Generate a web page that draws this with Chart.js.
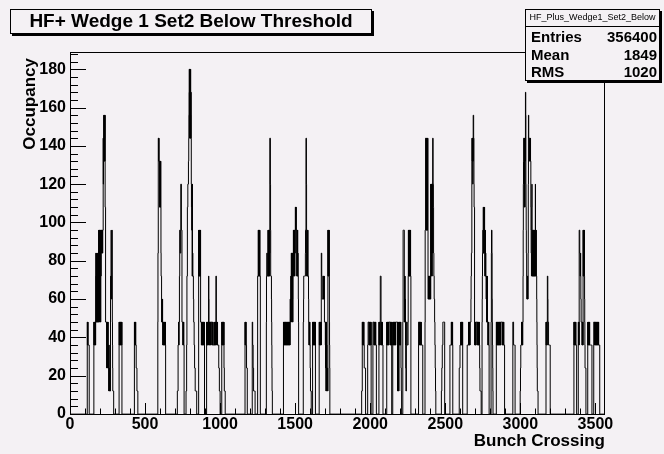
<!DOCTYPE html>
<html lang="en">
<head>
<meta charset="UTF-8">
<title>HF+ Wedge 1 Set2 Below Threshold</title>
<script src="https://cdn.jsdelivr.net/npm/chart.js"></script>
<style>
    body {
        margin: 0;
        background: #f4f1f4;
    }
    canvas {
        display: block;
    }
</style>
</head>
<body>
<canvas id="occupancyChart" width="664" height="454"></canvas>
<script>
// histogram: 3564 bunch crossings, only non-empty bins are listed (runs of consecutive bins)
const nBins = 3564;
const xTicks = [0, 500, 1000, 1500, 2000, 2500, 3000, 3500];
const yTicks = [0, 20, 40, 60, 80, 100, 120, 140, 160, 180];

const trainStart = [115, 159, 327, 429, 585, 715, 773, 857, 910, 1011,
    1166, 1214, 1250, 1308, 1422, 1554, 1616, 1660, 1943, 1983,
    2018, 2058, 2110, 2150, 2217, 2322, 2365, 2474, 2531, 2593,
    2646, 2745, 2805, 2840, 2950, 2999, 3171, 3357, 3386, 3449, 3489];

const trainCounts = [
    [48,36,48,36,48,36,36,36,36,36,36,36,36],
    [48,36,48,36,48,36,48,36,48,36,48,36,48,
     84,48,72,48,84,48,72,48,84,48,72,48,84,48,72,48,84,48,72,
     96,48,96,60,96,48,96,72,96,48,96,60,96,48,96,72,96,
     96,84,96,84,96,96,84,96,96,84,96,96,96,
     144,120,144,132,
     156,132,156,132,156,144,156,132,156,
     108,108,108,48,48,48,48,48,48,
     48,24,48,36,48,24,48,36,48,24,48,24,36,
     36,24,12,24,36,12,24,12,24,12,12,12,12,12,
     60,72,60,72,96,72,60,72,60,72,96,60,48,
     36,24,12,12,12,12,12,12],
    [48,36,48,36,48,36,48,36,48,36,48,36,48,36,48,36,48,36,48],
    [48,36,48,36,48,36,48,36,48,36,36,36,24,24,24,24,24,12,12,12,12,12,12],
    [48,84,84,
     144,144,144,132,144,132,132,132,132,
     108,132,108,132,108,132,108,132,108,
     84,72,72,72,
     60,48,60,48,60,48,60,48,
     36,48,36,48,36,48,36,48,36,48,36,48,36,48,36,48,36,48,36],
    [12,12,12,12,12,
     36,36,36,48,48,36,36,48,48,
     72,72,96,96,96,84,84,84,84,
     120,120,120,120,
     96,96,96,96,48,48,48,48,48,
     48,36,48,36,48,36,48,36,36],
    [12,12,12,12,
     36,36,72,72,72,
     108,108,108,120,120,120,120,132,132,
     144,156,168,180,
     180,144,180,156,180,144,168,144,180,156,144,168,144,
     120,108,108,96,96,
     120,72,120,72,84,72,72,72,
     72,60,60,48,48,48,36,36,36,24,24,24,24,12,12,12,12,12,
     12,12,12,12,12],
    [96,72,96,72,96,72,96,72,96,72,96,72,96,
     48,48,48,48,
     48,36,48,36,48,36,48,36,48,36,48,36,48,36,48,36,48,36,48,36,48,36],
    [48,36,48,36,48,36,48,36,48,36,48,36,48,
     72,72,60,48,
     48,36,48,36,48,36,48,36,48,36,
     48,48,48,48,48,48,48,48,
     36,48,36,48,36,48,36,48,36,
     36,36,36,36,36,36,36,36,48,36,48,36,48,36,48,36,48,36,
     72,72,72,48,
     48,36,48,36,48,36,48,36,36,36,36,36,
     36,36,36,24,24,24,24,12,12,12,12,12],
    [48,36,48,36,48,36,48,36,48,36,48,36,48,36,48,
     24,24,12,12,12,12,12,12],
    [48,36,48,36,48,36,48,36,36,36,24,24,24,24,24],
    [48,48,48,36,36,36,24,24,24,12,12,12,12,12,12,12,12,12,12],
    [72,72,72,72,96,72,96,72,96,72,96,72,96,72,96,72,72,72],
    [48,72,72,84,84,84,72,72,72,72,72,
     96,72,96,72,96,72,96,72,96,72,96,84,
     144,144,144,144,120,96,
     72,72,72,72,72,60,48,36,24,12,12],
    [48,36,48,36,48,36,48,36,48,36,48,36,48,36,48,36,48,36,48,36,48,36,
     48,36,48,36,48,36,48,36,48,36,48,36,48,36,48,36,48,36,48,36,48,36,
     48,60,48,60,60,72,60,72,84,
     84,48,84,60,84,48,84,60,84,48,84,72,84,
     96,72,96,84,96,72,96,84,96,72,96,84,96,
     108,108,96,108,96,108,96,96,96,
     96,72,96,72,96,72,96,72,84,72,72,60,48],
    [48,48,60,72,72,72,72,72,72,72,72,72,72,72,
     84,96,96,96,
     144,144,144,120,
     96,72,96,72,96,72,96,72,96,72,
     72,72,72,60,48,
     48,36,48,36,48,36,48,36,
     36,24,24,12,12,12,12,12],
    [48,36,48,36,48,36,48,36,48,36,48,36,48,36,48,36,48,36,48],
    [48,36,48,36,48,36,48,36,48,36,48,36,48,36,
     84,84,84,72,72,72,60,60,60,60,60,60,60,
     72,60,72,60,72,60,72,60,48,48,48,48,48,
     48,36,48,24,48,12,48,24,48,12,36,12,24,
     12,24,12,24,12,
     96,72,96,72,96,72,96,72,96,72,48,36,24],
    [12,12,12,12,
     48,36,48,36,48,36,48,36,48,36,48,36,
     36,24,24,24,24,24,24,24,24,24],
    [36,36,36,48,48,48,48,48,
     48,36,48,36,48,36,48,36,48,36,48,36,48,36,48],
    [48,48,48,48,48,48,
     48,36,48,36,48,36,48,36,48,36,48,36,48,36,
     36,36,36],
    [48,36,48,36,48,36,48,36,48,
     72,72,72,72,72,48,36,48,36,
     48,36,48,36,48,36,36,36,36],
    [48,36,48,36,48,36,48,36,48,36,48,36,48,36,48,
     48,48,48,48,48,48,48,
     48,36,48,36,48,36,48,36,48,36,48],
    [48,36,48,36,48,36,48,36,48,36,48,36,48,36,48,36,48,36,48,36,48,
     48,48,48,48,48,48,48,48,48,48,
     48,12,48,12,36,12,48,12,36,12,
     48,36,48,36,48,36,48,36,48,36,48,36,48,
     36,24,24,12,12],
    [48,48,96,96,96,96,96,96,96,96,
     72,48,72,48,72,48,60,48,
     36,24,24,12,12,12,
     48,48,48,48,48,36,36,36,36,36,36,
     48,72,96,72,96,72,96,72,96,72,96,72,96,72,96,72,96,72,72],
    [48,48,48,48,48,
     48,36,48,36,48,36,48,36,48,36,48,36,48,36,
     36,36,36,36,36,36,36,36,36],
    [48,96,96,96,144,144,
     144,96,144,96,144,96,144,96,144,96,144,96,144,96,
     72,60,72,60,72,
     60,72,60,72,60,72,60,72,60,72,60,72,60,
     120,72,120,84,120,72,120,84,120,72,120,84,120,
     144,144,144,120,120,
     108,84,84,72,72,60,60,
     60,48,48,36,36,24,24,12,12],
    [12,12,12,24,24,24,36,36,36,36,48,48,48,48,48,48,48,48,48,48,48,48],
    [36,36,36,36,36,36,36,36,36,
     48,36,48,36,48,36,48,36,48,36],
    [24,24,24,24,24,36,36,36,36,36,
     48,36,48,36,48,36,48,36,48,36,48,36,48],
    [36,36,36,36,36,36,36,36,36,
     48,36,48,36,48,36,48,36,48,36,48,
     48,48,48,48,
     48,60,72,72,84,84,84,
     132,144,132,144,132,144,120,144,132,
     156,156,156,144,144,
     120,108,108,108,
     48,36,48,36,48,36,48,36,48,36,48,
     48,48,48,48,48,48,48,
     48,36,48,36,48,36,48,36,48,36,48,36,48,36,48,36,
     24,24,12,12,12,12,12,12,12,12],
    [48,60,72,84,84,84,
     96,84,108,84,96,84,108,96,84,96,108,84,
     84,72,84,72,96,72,84,72,72,60,60,
     72,48,72,48,60,48,72,48,48,
     48,36,48,36,48,36,48,36,36],
    [48,48,84,96,96,96,84,60,48,36,36,24,12],
    [48,36,48,36,48,36,48,36,48,36,48,36,48,36,48,36,48,36,48,36,
     48,36,48,36,48,36,48,36,48,36,48,
     48,48,48,48,48,48,48,48,
     48,36,48,36,48,36,48,36,48,36,48,36,
     36,36,36,36],
    [48,48,48,48,48,36,36,36,36,36,36,36,36,36,36],
    [12,12,24,24,36,36,36,36,36,
     48,36,48,36,48,36,48,36,48,
     48,72,96,120,132,144,144,144,
     144,108,144,120,144,108,144,132,144,
     168,168,156,
     120,108,96,84,84,72,
     72,60,72,60,72,60,72,60,72,
     84,120,156,156,
     144,144,144,144,144,
     144,132,144,132,144,132,144,132,132,
     108,96,84,84,72,84,108,120,
     96,72,96,72,96,72,96,72,96,72,96,72,96,72,96,72,96,72,
     72,72,72,72,
     120,96,72,96,72,96,72,72,72,
     60,48,36,24,12,12,12,12,12],
    [48,36,48,36,48,36,48,36,48,72,72,72,60,48,48,48,48,
     36,36,36,36,36,36,36,36,36,36,36],
    [48,36,48,36,48,36,48,36,48,36,48,36,48,36,
     36,36,36,36],
    [48,36,48,36,48,36,
     96,96,96,96,84,84,72,72,72,
     84,72,60,60,48,48,48,48,48,
     48,36,48,36,48,36,48,36,
     96,72,96,72,96,72,96,72,96,72,
     60,48,36,24,24,24,24,24,24],
    [48,36,48,36,48,36,48,36,48,36,48,36,48,36,
     36,36,36,36,36,36,36,36,36,36,36,36,36,36],
    [48,48,48,48,
     48,36,48,36,48,36,48,36,48,36,48,36,48,36,48,36,
     48,36,48,36,48,36,48,36,48,36,48,36,48,36,
     36,36,36,36,36,36]
];

const statsName = 'HF_Plus_Wedge1_Set2_Below';
const statsLabels = ['Entries', 'Mean', 'RMS'];
const statsValues = ['356400', '1849', '1020'];

const bg = '#f4f1f4';
const fontFamily = "'Liberation Sans', Arial, Helvetica, sans-serif";

// fill the bins
const occupancy = new Array(nBins).fill(0);
trainStart.forEach(function (start, k) {
    trainCounts[k].forEach(function (v, j) {
        occupancy[start + j] = v;
    });
});
const points = occupancy.map(function (v, i) { return { x: i, y: v }; });
points.push({ x: nBins, y: 0 });

// frame, inward ticks, title pave and stats box, drawn the ROOT way
const rootDecor = {
    id: 'rootDecor',
    afterDraw(chart) {
        const ctx = chart.ctx;
        const a = chart.chartArea;
        const xs = chart.scales.x;
        const ys = chart.scales.y;
        ctx.save();
        ctx.strokeStyle = '#000';
        ctx.lineWidth = 1;

        // frame
        ctx.strokeRect(a.left + 0.5, a.top + 0.5, a.right - a.left - 1, a.bottom - a.top);

        // ticks
        ctx.beginPath();
        for (let v = 0; v <= nBins; v += 100) {
            const px = Math.round(xs.getPixelForValue(v)) + 0.5;
            const len = v % 500 === 0 ? 11 : 5.5;
            ctx.moveTo(px, a.bottom);
            ctx.lineTo(px, a.bottom - len);
        }
        for (let v = 0; v < 189; v += 4) {
            const py = Math.round(ys.getPixelForValue(v)) + 0.5;
            const len = v % 20 === 0 ? 16 : 8;
            ctx.moveTo(a.left, py);
            ctx.lineTo(a.left + len, py);
        }
        ctx.stroke();

        // axis titles
        ctx.fillStyle = '#000';
        ctx.font = 'bold 17px ' + fontFamily;
        ctx.textAlign = 'right';
        ctx.textBaseline = 'middle';
        ctx.fillText('Bunch Crossing', a.right, 441);
        ctx.save();
        ctx.translate(30, 58);
        ctx.rotate(-Math.PI / 2);
        ctx.fillText('Occupancy', 0, 0);
        ctx.restore();

        // title pave
        ctx.fillStyle = '#000';
        ctx.fillRect(12, 11, 362, 25);
        ctx.fillStyle = bg;
        ctx.fillRect(10, 9, 362, 25);
        ctx.strokeRect(10.5, 9.5, 361, 24);
        ctx.fillStyle = '#000';
        ctx.font = 'bold 19px ' + fontFamily;
        ctx.textAlign = 'center';
        ctx.fillText('HF+ Wedge 1 Set2 Below Threshold', 191, 22);

        // stats box
        ctx.fillRect(527, 11, 135, 72);
        ctx.fillStyle = bg;
        ctx.fillRect(525, 9, 135, 72);
        ctx.strokeRect(525.5, 9.5, 134, 71);
        ctx.beginPath();
        ctx.moveTo(525, 26.5);
        ctx.lineTo(660, 26.5);
        ctx.stroke();
        ctx.fillStyle = '#000';
        ctx.font = '9px ' + fontFamily;
        ctx.textAlign = 'center';
        ctx.fillText(statsName, 592.5, 18);
        ctx.font = 'bold 15px ' + fontFamily;
        statsLabels.forEach(function (label, i) {
            const yy = 38 + i * 17.5;
            ctx.textAlign = 'left';
            ctx.fillText(label, 531, yy);
            ctx.textAlign = 'right';
            ctx.fillText(statsValues[i], 657, yy);
        });
        ctx.restore();
    }
};

Chart.defaults.font.family = fontFamily;

new Chart(document.getElementById('occupancyChart'), {
    type: 'line',
    data: {
        datasets: [{
            data: points,
            borderColor: '#000',
            borderWidth: 1,
            pointRadius: 0,
            stepped: true,
            fill: false
        }]
    },
    options: {
        responsive: false,
        animation: false,
        devicePixelRatio: 1,
        parsing: false,
        normalized: true,
        events: [],
        layout: { padding: { top: 52, right: 59, left: 0, bottom: 0 } },
        plugins: {
            legend: { display: false },
            tooltip: { enabled: false },
            title: { display: false }
        },
        scales: {
            x: {
                type: 'linear',
                min: 0,
                max: nBins,
                grid: { display: false, drawTicks: false },
                border: { display: false },
                afterFit: function (s) { s.height = 40; },
                afterBuildTicks: function (s) { s.ticks = xTicks.map(function (v) { return { value: v }; }); },
                ticks: {
                    color: '#000',
                    font: { size: 16, weight: 'bold' },
                    padding: 1,
                    maxRotation: 0,
                    autoSkip: false,
                    callback: function (v) { return String(v); }
                }
            },
            y: {
                type: 'linear',
                min: 0,
                max: 189,
                grid: { display: false, drawTicks: false },
                border: { display: false },
                afterFit: function (s) { s.width = 70; },
                afterBuildTicks: function (s) { s.ticks = yTicks.map(function (v) { return { value: v }; }); },
                ticks: {
                    color: '#000',
                    font: { size: 16, weight: 'bold' },
                    padding: 4,
                    autoSkip: false,
                    callback: function (v) { return String(v); }
                }
            }
        }
    },
    plugins: [rootDecor]
});
</script>
</body>
</html>
